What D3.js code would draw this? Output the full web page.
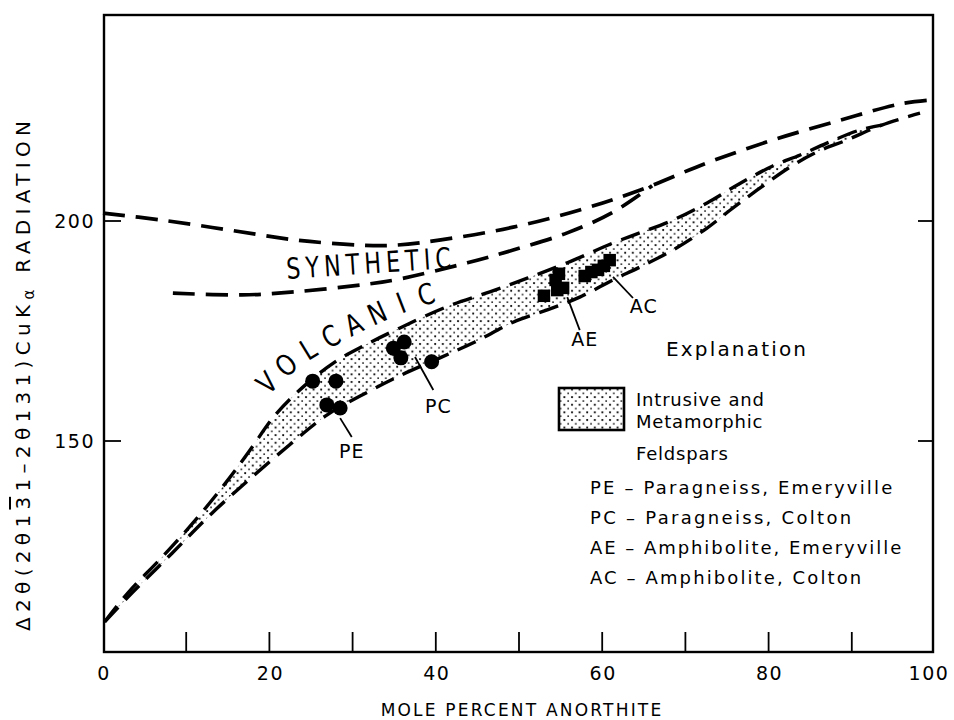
<!DOCTYPE html>
<html>
<head>
<meta charset="utf-8">
<script src="https://cdn.jsdelivr.net/npm/d3@7"></script>
<style>
  body { margin: 0; background: #fff; }
  text { font-family: "DejaVu Sans", sans-serif; fill: #000; }
  .tick-label { font-size: 19px; letter-spacing: 1.5px; }
  .axis-title { font-size: 17px; letter-spacing: 2.2px; }
  .curve-label { font-family: "Liberation Sans Narrow", "DejaVu Sans Condensed", sans-serif; font-size: 29px; }
  .pt-label { font-size: 19px; letter-spacing: 1px; }
  .legend-text { font-size: 18px; letter-spacing: 0.8px; }
</style>
</head>
<body>
<div id="viz_container"></div>
<script>
// data (mole % anorthite vs delta 2theta)
const xTicks = [0, 20, 40, 60, 80, 100];
const xMinorTicks = [10, 20, 30, 40, 50, 60, 70, 80, 90];
const yTicks = [150, 200];

// synthetic curves
const synthUpperX = [0, 7.1, 15.0, 23.1, 31.1, 35.1, 40.6, 49.3, 57.3, 64.5, 72.6, 80.5, 88.6, 95.8, 99.6];
const synthUpperY = [201.8, 200.2, 198.0, 195.7, 194.5, 194.5, 195.7, 198.6, 202.5, 207.0, 213.2, 218.4, 222.9, 226.6, 227.5];
const synthLowerX = [8.4, 16.7, 23.1, 31.1, 35.1, 43.8, 49.3, 55.8, 61.3, 66.0];
const synthLowerY = [183.6, 183.2, 183.9, 185.5, 186.6, 190.5, 193.4, 197.3, 202.0, 208.0];

// intrusive / metamorphic band (upper edge = volcanic curve)
const bandUpperX = [0.2, 3.0, 7.1, 11.1, 15.0, 17.7, 20.7, 24.3, 27.9, 31.5, 35.7, 41.3, 46.5, 51.0, 55.8, 61.3, 64.5, 68.5, 72.6, 76.6, 80.5, 83.8, 87.0, 91.0, 93.6];
const bandUpperY = [108.9, 115.5, 123.6, 132.0, 141.1, 148.0, 155.9, 162.7, 168.0, 171.8, 175.7, 180.5, 183.9, 187.0, 190.5, 195.0, 197.3, 200.2, 204.1, 208.6, 212.5, 215.0, 217.7, 220.7, 221.8];
const bandLowerX = [0.2, 3.5, 8.3, 13.1, 17.9, 23.1, 26.9, 30.9, 35.3, 40.5, 44.7, 49.3, 53.4, 57.3, 61.3, 64.5, 68.5, 72.6, 75.4, 78.6, 82.6, 85.8, 89.4, 93.6, 98.2];
const bandLowerY = [108.9, 115.5, 124.5, 133.6, 141.8, 150.2, 155.9, 160.2, 164.5, 168.9, 172.5, 177.0, 179.8, 182.7, 186.6, 189.5, 193.4, 198.4, 202.5, 207.0, 212.3, 215.7, 218.4, 221.8, 224.5];

// paragneiss samples (circles)
const circleX = [25.2, 28.0, 26.9, 28.5, 34.9, 36.2, 35.8, 39.5];
const circleY = [163.6, 163.6, 158.2, 157.5, 171.1, 172.5, 168.9, 168.0];
// amphibolite samples (squares)
const squareX = [53.0, 54.4, 54.8, 55.3, 54.6, 57.9, 58.7, 59.5, 60.2, 60.9];
const squareY = [183.0, 186.6, 188.0, 184.8, 184.3, 187.5, 188.4, 188.9, 189.8, 191.1];

// sample labels with leader lines
const ptLabels = ["PE", "PC", "AE", "AC"];
const leadX0 = [28.5, 37.5, 55.8, 61.3];
const leadY0 = [155.2, 169.1, 182.7, 187.3];
const leadX1 = [29.9, 39.7, 57.3, 63.7];
const leadY1 = [150.9, 161.6, 175.2, 182.5];
const ptLabelX = [29.9, 40.3, 57.9, 65.0];
const ptLabelY = [146.2, 156.4, 171.6, 179.1];

const legendLines = ["PE \u2013 Paragneiss, Emeryville", "PC \u2013 Paragneiss, Colton",
                     "AE \u2013 Amphibolite, Emeryville", "AC \u2013 Amphibolite, Colton"];
const legendWidths = [303, 262, 312, 272];

const zip = (xs, ys) => xs.map((x, i) => [x, ys[i]]);

// dimensions
const W = 954, H = 720;
const plot = {left: 104, right: 933, top: 15, bottom: 652};

const svg = d3.select("#viz_container")
  .append("svg")
    .attr("width", W)
    .attr("height", H);

const xScale = d3.scaleLinear().domain([0, 100]).range([103, 935]);
const yScale = d3.scaleLinear().domain([150, 200]).range([441, 221]);

// stipple pattern
const defs = svg.append("defs");
const pat = defs.append("pattern")
    .attr("id", "stipple")
    .attr("patternUnits", "userSpaceOnUse")
    .attr("width", 7.6)
    .attr("height", 7.6);
pat.append("circle").attr("cx", 2).attr("cy", 2).attr("r", 1.1).attr("fill", "#000");
pat.append("circle").attr("cx", 5.8).attr("cy", 5.8).attr("r", 0.9).attr("fill", "#000");

const line = d3.line()
  .x(d => xScale(d[0]))
  .y(d => yScale(d[1]))
  .curve(d3.curveCatmullRom.alpha(0.5));

// band fill
const up = zip(bandUpperX, bandUpperY);
const lo = zip(bandLowerX, bandLowerY);
const loToJoin = lo.filter(d => d[0] <= bandUpperX[bandUpperX.length - 1]);
svg.append("path")
    .attr("d", line(up) + "L" + line(loToJoin.slice().reverse()).slice(1) + "Z")
    .attr("fill", "url(#stipple)")
    .attr("stroke", "none");

// curves
const dashed = (pts, dash, w) => svg.append("path")
    .attr("d", line(pts))
    .attr("fill", "none")
    .attr("stroke", "#000")
    .attr("stroke-width", w)
    .attr("stroke-dasharray", dash);

dashed(zip(synthUpperX, synthUpperY), "22,11", 3.7);
dashed(zip(synthLowerX, synthLowerY), "22,11", 3.7);
dashed(up, "20,10", 3.4);
dashed(lo, "20,10", 3.4);

// frame
svg.append("rect")
    .attr("x", plot.left)
    .attr("y", plot.top)
    .attr("width", plot.right - plot.left)
    .attr("height", plot.bottom - plot.top)
    .attr("fill", "none")
    .attr("stroke", "#000")
    .attr("stroke-width", 2.4);

// x ticks (inside, bottom)
svg.append("g")
  .selectAll("line")
  .data(xMinorTicks)
  .join("line")
    .attr("x1", d => xScale(d)).attr("x2", d => xScale(d))
    .attr("y1", plot.bottom).attr("y2", plot.bottom - 20)
    .attr("stroke", "#000").attr("stroke-width", 1.8);

svg.append("g")
  .selectAll("text")
  .data(xTicks)
  .join("text")
    .attr("class", "tick-label")
    .attr("x", d => Math.min(xScale(d) + 1, 929))
    .attr("y", 680)
    .attr("text-anchor", "middle")
    .text(d => d);

// y ticks, both sides
svg.append("g")
  .selectAll("line")
  .data(yTicks.flatMap(v => [[plot.left, plot.left + 17, v], [plot.right, plot.right - 15, v]]))
  .join("line")
    .attr("x1", d => d[0]).attr("x2", d => d[1])
    .attr("y1", d => yScale(d[2])).attr("y2", d => yScale(d[2]))
    .attr("stroke", "#000").attr("stroke-width", 1.8);

svg.append("g")
  .selectAll("text")
  .data(yTicks)
  .join("text")
    .attr("class", "tick-label")
    .attr("x", 95)
    .attr("y", d => yScale(d) + 7)
    .attr("text-anchor", "end")
    .text(d => d);

// axis titles
svg.append("text")
    .attr("class", "axis-title")
    .attr("x", 522)
    .attr("y", 716)
    .attr("text-anchor", "middle")
  .text("MOLE PERCENT ANORTHITE");

const yt = svg.append("text")
    .attr("transform", "translate(30,376) rotate(-90)")
    .attr("text-anchor", "middle")
    .attr("textLength", 510)
    .attr("lengthAdjust", "spacing")
    .style("font-size", "20px");
yt.append("tspan").text("\u03942\u03b8(2\u03b81");
yt.append("tspan").style("text-decoration", "overline").text("3");
yt.append("tspan").text("1\u20132\u03b8131)CuK");
yt.append("tspan").attr("baseline-shift", "-25%").style("font-size", "15px").text("\u03b1");
yt.append("tspan").text(" RADIATION");

// curve labels
svg.append("text")
    .attr("class", "curve-label")
    .attr("transform", "translate(287,279) rotate(-3.8) scale(0.85,1)")
    .attr("textLength", 194)
    .attr("lengthAdjust", "spacing")
  .text("SYNTHETIC");

// VOLCANIC, letter by letter along a guide path above the band
const volcPath = [[262, 402], [300, 367], [340, 343], [380, 323], [420, 307], [460, 296]];
const guide = defs.append("path")
    .attr("d", d3.line().curve(d3.curveCatmullRom)(volcPath))
    .node();
const volcLetters = "VOLCANIC".split("");
const step = 25.5;
volcLetters.forEach((ch, i) => {
  const s = 17 + i * step;
  const p = guide.getPointAtLength(s);
  const p2 = guide.getPointAtLength(s + 1);
  const ang = Math.atan2(p2.y - p.y, p2.x - p.x) * 180 / Math.PI;
  svg.append("text")
      .attr("class", "curve-label")
      .attr("text-anchor", "middle")
      .attr("transform", `translate(${p.x},${p.y}) rotate(${ang}) scale(0.9,1)`)
      .text(ch);
});

// sample markers
svg.append("g")
  .selectAll("circle")
  .data(zip(circleX, circleY))
  .join("circle")
    .attr("cx", d => xScale(d[0]))
    .attr("cy", d => yScale(d[1]))
    .attr("r", 7.5)
    .attr("fill", "#000");

const sq = 12.5;
svg.append("g")
  .selectAll("rect")
  .data(zip(squareX, squareY))
  .join("rect")
    .attr("x", d => xScale(d[0]) - sq / 2)
    .attr("y", d => yScale(d[1]) - sq / 2)
    .attr("width", sq)
    .attr("height", sq)
    .attr("fill", "#000");

// leaders + labels
svg.append("g")
  .selectAll("line")
  .data(ptLabels.map((t, i) => i))
  .join("line")
    .attr("x1", i => xScale(leadX0[i])).attr("y1", i => yScale(leadY0[i]))
    .attr("x2", i => xScale(leadX1[i])).attr("y2", i => yScale(leadY1[i]))
    .attr("stroke", "#000").attr("stroke-width", 1.8);

svg.append("g")
  .selectAll("text")
  .data(ptLabels.map((t, i) => i))
  .join("text")
    .attr("class", "pt-label")
    .attr("x", i => xScale(ptLabelX[i]))
    .attr("y", i => yScale(ptLabelY[i]))
    .attr("text-anchor", "middle")
    .text(i => ptLabels[i]);

// explanation / legend
svg.append("text")
    .attr("x", 666)
    .attr("y", 356)
    .attr("textLength", 140)
    .attr("lengthAdjust", "spacing")
    .style("font-size", "20px")
  .text("Explanation");

svg.append("rect")
    .attr("x", 559).attr("y", 388)
    .attr("width", 65).attr("height", 42)
    .attr("fill", "url(#stipple)")
    .attr("stroke", "#000")
    .attr("stroke-width", 2.6);

[["Intrusive and", 406], ["Metamorphic", 428], ["Feldspars", 460]].forEach(([t, y]) => {
  svg.append("text")
      .attr("class", "legend-text")
      .attr("x", 636)
      .attr("y", y)
    .text(t);
});

svg.append("g")
  .selectAll("text")
  .data(legendLines)
  .join("text")
    .attr("class", "legend-text")
    .attr("x", 590)
    .attr("y", (d, i) => 494 + i * 30)
    .attr("textLength", (d, i) => legendWidths[i])
    .attr("lengthAdjust", "spacing")
    .text(d => d);
</script>
</body>
</html>
